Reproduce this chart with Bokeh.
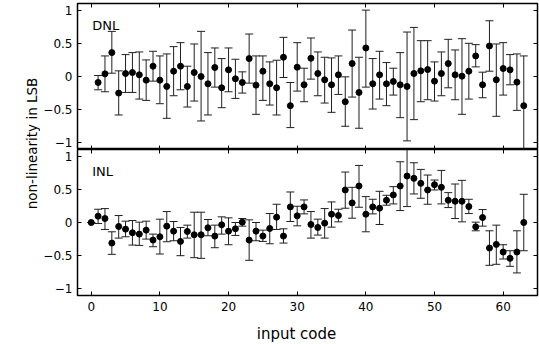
from bokeh.plotting import figure
from bokeh.layouts import row, column
from bokeh.models import (ColumnDataSource, Range1d, LinearAxis, FixedTicker, Label)
from bokeh.embed import file_html
from bokeh.resources import INLINE
import math

# ---------------- data ----------------
dnl_code = list(range(1, 64))
dnl_val = [-0.09, 0.04, 0.36, -0.25, 0.045, 0.06, 0.025, -0.055, 0.155, -0.055,
           -0.15, 0.08, 0.155, -0.15, 0.06, 0.00, -0.11, 0.135, -0.17, 0.10,
           -0.035, -0.09, 0.27, -0.13, 0.08, -0.11, -0.17, 0.29, -0.44, 0.14,
           -0.125, 0.275, 0.045, -0.05, -0.125, 0.025, -0.38, 0.195, -0.24, 0.43,
           -0.11, 0.025, -0.11, -0.075, -0.125, -0.15, 0.045, 0.085, 0.105, -0.07,
           0.045, 0.195, 0.025, 0.005, 0.08, 0.31, -0.125, 0.46, -0.05, 0.12,
           0.10, -0.085, -0.44]
dnl_hi = [0.015, 0.31, 0.68, 0.085, 0.33, 0.36, 0.37, 0.25, 0.38, 0.31,
          0.34, 0.45, 0.51, 0.155, 0.49, 0.68, 0.36, 0.43, 0.27, 0.43,
          0.26, 0.07, 0.64, 0.31, 0.31, 0.22, 0.245, 0.59, -0.09, 0.51,
          0.125, 0.58, 0.37, 0.29, 0.28, 0.31, -0.005, 0.70, 0.29, 1.0,
          0.27, 0.38, 0.21, 0.125, 0.36, 0.67, 0.74, 0.54, 0.54, 0.22,
          0.37, 0.56, 0.40, 0.57, 0.50, 0.48, 0.065, 0.84, 0.49, 0.51,
          0.33, 0.34, 0.31]
dnl_lo = [-0.20, -0.23, 0.05, -0.58, -0.24, -0.24, -0.34, -0.36, -0.07, -0.41,
          -0.63, -0.29, -0.20, -0.46, -0.37, -0.67, -0.58, -0.16, -0.47, -0.23,
          -0.33, -0.25, -0.10, -0.57, -0.36, -0.43, -0.58, -0.015, -0.77, -0.22,
          -0.38, -0.04, -0.29, -0.40, -0.54, -0.27, -0.75, -0.31, -0.78, -0.16,
          -0.49, -0.34, -0.44, -0.28, -0.62, -0.97, -0.65, -0.38, -0.35, -0.37,
          -0.29, -0.17, -0.35, -0.57, -0.34, 0.145, -0.32, 0.08, -0.60, -0.28,
          -0.125, -0.51, -1.2]

inl_code = list(range(0, 64))
inl_val = [0.0, 0.095, 0.06, -0.31, -0.06, -0.10, -0.155, -0.175, -0.115, -0.265,
           -0.215, -0.055, -0.13, -0.285, -0.135, -0.185, -0.185, -0.08, -0.205, -0.035,
           -0.13, -0.095, 0.005, -0.265, -0.13, -0.205, -0.09, 0.08, -0.205, 0.235,
           0.10, 0.235, -0.03, -0.075, -0.01, 0.125, 0.105, 0.49, 0.295, 0.55,
           0.125, 0.235, 0.215, 0.335, 0.415, 0.55, 0.70, 0.665, 0.59, 0.49,
           0.57, 0.53, 0.335, 0.32, 0.32, 0.24, -0.065, 0.075, -0.385, -0.33,
           -0.445, -0.54, -0.445, 0.0]
inl_hi = [0.0, 0.20, 0.21, -0.14, 0.105, 0.02, 0.03, 0.005, 0.02, -0.175,
          0.05, 0.165, 0.015, -0.075, -0.04, 0.155, 0.155, 0.045, -0.04, 0.085,
          0.07, 0.0, 0.06, 0.04, 0.0, -0.115, 0.135, 0.275, -0.095, 0.46,
          0.245, 0.34, 0.165, 0.05, 0.21, 0.31, 0.20, 0.76, 0.53, 0.86,
          0.39, 0.35, 0.47, 0.41, 0.54, 0.915, 1.12, 0.90, 0.80, 0.715,
          0.64, 0.785, 0.45, 0.58, 0.635, 0.35, 0.005, 0.195, -0.125, -0.04,
          -0.335, -0.425, -0.125, 0.425]
inl_lo = [0.0, -0.015, -0.105, -0.48, -0.235, -0.215, -0.34, -0.345, -0.25, -0.365,
          -0.475, -0.29, -0.275, -0.50, -0.235, -0.53, -0.54, -0.20, -0.38, -0.175,
          -0.335, -0.195, -0.055, -0.57, -0.275, -0.285, -0.32, -0.105, -0.31, 0.015,
          -0.05, 0.13, -0.235, -0.19, -0.235, -0.07, 0.01, 0.215, 0.065, 0.23,
          -0.14, 0.13, -0.03, 0.26, 0.28, 0.18, 0.24, 0.43, 0.365, 0.275,
          0.49, 0.28, 0.225, 0.06, 0.01, 0.135, -0.125, -0.055, -0.645, -0.63,
          -0.55, -0.66, -0.76, -0.425]

x_ticks = [0, 10, 20, 30, 40, 50, 60]
y_ticks = [-1, -0.5, 0, 0.5, 1]
y_tick_labels = {-1: "\u22121", -0.5: "\u22120.5", 0: "0", 0.5: "0.5", 1: "1"}

FONT = "DejaVu Sans"


def style_axis(ax, ticks, show_labels, overrides=None):
    ax.ticker = FixedTicker(ticks=ticks)
    ax.axis_line_color = None
    ax.major_tick_in = 4
    ax.major_tick_out = 0
    ax.major_tick_line_color = "black"
    ax.minor_tick_line_color = None
    ax.major_label_text_font = FONT
    if overrides:
        ax.major_label_overrides = overrides
    if show_labels:
        ax.major_label_text_color = "black"
        ax.major_label_text_font_size = "12px"
        ax.major_label_standoff = 5
    else:
        ax.major_label_text_color = None
        ax.major_label_text_font_size = "1px"
        ax.major_label_standoff = 0


def make_panel(code, val, hi, lo, height, top, bottom, show_x_labels, name):
    p = figure(width=499, height=height, output_backend="svg", toolbar_location=None,
               x_range=Range1d(-2, 65), y_range=Range1d(-1.1, 1.1),
               min_border_left=37, min_border_right=2,
               min_border_top=top, min_border_bottom=bottom)
    p.background_fill_color = "white"
    p.border_fill_color = "white"
    p.outline_line_color = "black"
    p.outline_line_width = 1.5
    p.grid.visible = False
    style_axis(p.xaxis[0], x_ticks, show_x_labels)
    if show_x_labels:
        p.xaxis[0].major_label_standoff = 6
    style_axis(p.yaxis[0], y_ticks, True, y_tick_labels)
    ax_top = LinearAxis()
    style_axis(ax_top, x_ticks, False)
    p.add_layout(ax_top, "above")
    ax_right = LinearAxis()
    style_axis(ax_right, y_ticks, False)
    p.add_layout(ax_right, "right")

    src = ColumnDataSource(dict(x=code, y=val, hi=hi, lo=lo))
    p.segment(x0="x", y0="lo", x1="x", y1="hi", source=src,
              line_color="#202020", line_width=1)
    p.scatter(x="x", y="hi", source=src, marker="dash", size=8,
              line_color="#202020", line_width=1)
    p.scatter(x="x", y="lo", source=src, marker="dash", size=8,
              line_color="#202020", line_width=1)
    p.scatter(x="x", y="y", source=src, marker="circle", size=6,
              fill_color="black", line_color="black")
    p.add_layout(Label(x=0.15, y=0.77, text=name, text_font=FONT,
                       text_font_size="13px", text_color="black",
                       text_baseline="alphabetic"))
    return p


p1 = make_panel(dnl_code, dnl_val, dnl_hi, dnl_lo, 149, 3, 0, False, "DNL")
p2 = make_panel(inl_code, inl_val, inl_hi, inl_lo, 166, 0, 20, True, "INL")

# y-axis title, spanning both panels
lab = figure(width=40, height=315, output_backend="svg", toolbar_location=None,
             x_range=Range1d(0, 40), y_range=Range1d(0, 315),
             min_border=0, min_border_left=0, min_border_right=0,
             min_border_top=0, min_border_bottom=0)
lab.axis.visible = False
lab.grid.visible = False
lab.outline_line_color = None
lab.add_layout(Label(x=31.7, y=172, text="non-linearity in LSB", angle=math.pi / 2,
                     text_font=FONT, text_font_size="13.5px", text_color="black",
                     text_align="center", text_baseline="alphabetic"))

# x-axis title strip
xlab = figure(width=539, height=29, output_backend="svg", toolbar_location=None,
              x_range=Range1d(0, 539), y_range=Range1d(0, 29),
              min_border=0, min_border_left=0, min_border_right=0,
              min_border_top=0, min_border_bottom=0)
xlab.axis.visible = False
xlab.grid.visible = False
xlab.outline_line_color = None
xlab.add_layout(Label(x=296, y=10.7, text="input code", text_font=FONT,
                      text_font_size="15px", text_color="black",
                      text_align="center", text_baseline="alphabetic"))

layout = column(row(lab, column(p1, p2, spacing=0), spacing=0), xlab, spacing=0)

open("out.html", "w").write(file_html(layout, INLINE))
